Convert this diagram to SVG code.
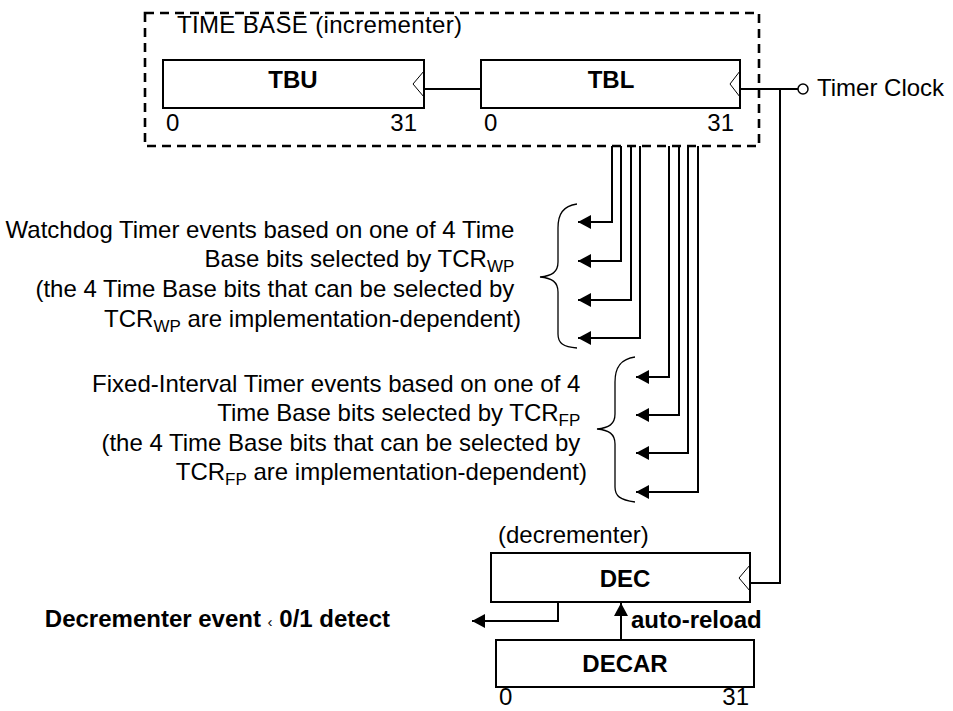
<svg xmlns="http://www.w3.org/2000/svg" width="953" height="711" viewBox="0 0 953 711">
<defs>
<style>
.t{font-family:"Liberation Sans",Arial,sans-serif;font-size:24px;fill:#000}
.b{font-weight:bold}
.box{fill:#fff;stroke:#000;stroke-width:2}
.clk{fill:none;stroke:#000;stroke-width:1}
.ln{fill:none;stroke:#000;stroke-width:2}
.br{fill:none;stroke:#000;stroke-width:1.3}
.sub{font-size:17px}
</style>
<marker id="ah" markerWidth="13" markerHeight="14" refX="13" refY="7" orient="auto" markerUnits="userSpaceOnUse">
<path d="M0,0 L13,7 L0,14 Z" fill="#000"/>
</marker>
</defs>
<rect width="953" height="711" fill="#fff"/>

<g id="timebase">
<rect x="145" y="13" width="614" height="133" fill="none" stroke="#000" stroke-width="2.6" stroke-dasharray="9,6"/>
<text class="t" x="177" y="33" textLength="285">TIME BASE (incrementer)</text>
</g>

<g id="tbu">
<rect class="box" x="163" y="60" width="261" height="48"/>
<path class="clk" d="M424,71 L413,84 L424,97"/>
<text class="t b" x="293" y="88" text-anchor="middle">TBU</text>
<text class="t" x="166" y="131">0</text>
<text class="t" x="417" y="131" text-anchor="end">31</text>
</g>

<g id="tbl">
<rect class="box" x="481" y="60" width="259" height="48"/>
<path class="clk" d="M740,71 L730,84 L740,97"/>
<text class="t b" x="611" y="88" text-anchor="middle">TBL</text>
<text class="t" x="484" y="131">0</text>
<text class="t" x="734" y="131" text-anchor="end">31</text>
</g>

<g id="timerclock">
<circle cx="803" cy="89" r="5" fill="#fff" stroke="#000" stroke-width="1.5"/>
<text class="t" x="817" y="96">Timer Clock</text>
</g>

<g id="watchdog">
<text class="t" text-anchor="end">
<tspan x="521" y="238">Watchdog Timer events based on one of 4 Time</tspan>
<tspan x="521" y="267">Base bits selected by TCR<tspan class="sub" dy="5">WP</tspan></tspan>
<tspan x="521" y="297">(the 4 Time Base bits that can be selected by</tspan>
<tspan x="521" y="327">TCR<tspan class="sub" dy="5">WP</tspan><tspan dy="-5"> are implementation-dependent)</tspan></tspan>
</text>
<path class="br" d="M577,204 C563,206 558,214 558,228 L558,262 C558,272 552,276 540,277 C552,278 558,282 558,292 L558,334 C558,343 563,347 577,348"/>
</g>

<g id="fixedinterval">
<text class="t" text-anchor="end">
<tspan x="587" y="392">Fixed-Interval Timer events based on one of 4</tspan>
<tspan x="587" y="421">Time Base bits selected by TCR<tspan class="sub" dy="5">FP</tspan></tspan>
<tspan x="587" y="451">(the 4 Time Base bits that can be selected by</tspan>
<tspan x="587" y="480">TCR<tspan class="sub" dy="5">FP</tspan><tspan dy="-5"> are implementation-dependent)</tspan></tspan>
</text>
<path class="br" d="M635,357 C620,359 615,368 615,382 L615,414 C615,424 609,428 597,429 C609,430 615,434 615,444 L615,487 C615,496 620,500 635,502"/>
</g>

<g id="dec">
<text class="t" x="498" y="543">(decrementer)</text>
<rect class="box" x="491" y="553" width="259" height="49"/>
<path class="clk" d="M750,565 L739,578 L750,591"/>
<text class="t b" x="625" y="587" text-anchor="middle">DEC</text>
</g>

<g id="decar">
<rect class="box" x="496" y="640" width="258" height="47"/>
<text class="t b" x="625" y="672" text-anchor="middle">DECAR</text>
<text class="t" x="499" y="705">0</text>
<text class="t" x="749" y="705" text-anchor="end">31</text>
</g>

<g id="decevent">
<text class="t b" x="390" y="627" text-anchor="end">Decrementer event <tspan font-weight="normal" font-size="15">‹</tspan> 0/1 detect</text>
</g>

<g id="autoreload">
<text class="t b" x="631" y="628">auto-reload</text>
</g>

<g id="connectors">
<path class="ln" d="M424,89 L481,89"/>
<path class="ln" d="M740,89 L798,89"/>
<path class="ln" d="M780,89 L780,583 L750,583"/>
<path class="ln" d="M612,146 L612,222 L578,222" marker-end="url(#ah)"/>
<path class="ln" d="M621,146 L621,261 L578,261" marker-end="url(#ah)"/>
<path class="ln" d="M631,146 L631,300 L578,300" marker-end="url(#ah)"/>
<path class="ln" d="M640,146 L640,338 L578,338" marker-end="url(#ah)"/>
<path class="ln" d="M669,146 L669,377 L636,377" marker-end="url(#ah)"/>
<path class="ln" d="M679,146 L679,415 L636,415" marker-end="url(#ah)"/>
<path class="ln" d="M688,146 L688,453 L636,453" marker-end="url(#ah)"/>
<path class="ln" d="M698,146 L698,492 L636,492" marker-end="url(#ah)"/>
<path class="ln" d="M621,640 L621,603" marker-end="url(#ah)"/>
<path class="ln" d="M558,602 L558,621 L472,621" marker-end="url(#ah)"/>
</g>
</svg>
